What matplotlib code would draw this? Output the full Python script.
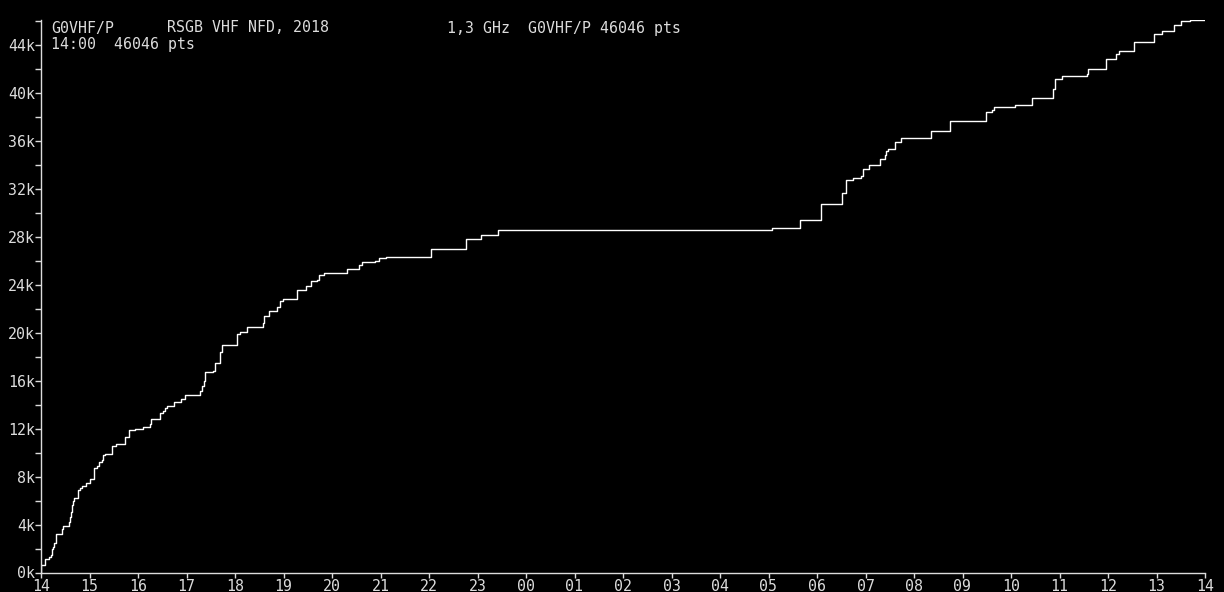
import numpy as np
import matplotlib
matplotlib.use("Agg")
import matplotlib.pyplot as plt

# minutes after 14:00 at which the score steps up, and the new running score
minutes = [0, 0, 5.4, 10.3, 12.4, 14.0, 15.3, 16.5, 18.6, 25.6, 26.8, 34.3, 35.5,
           36.7, 38.8, 40.0, 40.9, 46.2, 48.3, 50.4, 55.7, 61.1, 66.1, 68.9, 71.8,
           75.9, 77.2, 79.2, 88.3, 93.3, 103.5, 108.5, 116.0, 125.9, 135.4, 136.6,
           147.7, 151.0, 153.9, 156.4, 165.1, 172.9, 178.7, 196.4, 199.7, 201.4,
           203.5, 213.4, 215.8, 222.0, 224.5, 242.3, 245.6, 254.6, 274.5, 275.7,
           282.0, 291.8, 295.1, 298.8, 316.1, 327.3, 333.5, 340.9, 343.4, 349.6,
           378.0, 392.9, 396.6, 412.7, 417.6, 426.3, 482.0, 525.4, 543.9, 565.0,
           904.0, 938.9, 964.9, 990.9, 995.8, 1004.5, 1014.4, 1016.9, 1024.3,
           1037.9, 1044.1, 1045.3, 1047.8, 1056.5, 1063.9, 1101.1, 1124.6, 1169.2,
           1176.6, 1179.1, 1205.1, 1226.2, 1252.2, 1254.6, 1263.3, 1294.3, 1295.5,
           1317.8, 1330.1, 1333.8, 1352.4, 1377.2, 1387.1, 1402.0, 1410.6, 1421.8,
           1440]
score = [0, 630, 1130, 1270, 1460, 1940, 2160, 2440, 3190, 3610, 3890, 4250, 4620,
         5010, 5650, 5930, 6210, 6850, 7040, 7210, 7460, 7800, 8720, 8860, 9250,
         9410, 9810, 9890, 10530, 10720, 11310, 11900, 11980, 12150, 12400, 12820,
         13320, 13430, 13740, 13910, 14240, 14490, 14830, 15160, 15580, 15970,
         16670, 16830, 17500, 18340, 18930, 19850, 20010, 20430, 20770, 21350,
         21770, 22110, 22610, 22800, 23560, 23860, 24310, 24390, 24780, 24950,
         25290, 25620, 25870, 25960, 26210, 26290, 26950, 27800, 28130, 28550,
         28720, 29390, 30730, 31650, 32680, 32900, 33070, 33600, 33990,
         34490, 34830, 35160, 35330, 35910, 36250, 36830, 37670, 38340,
         38510, 38760, 38930, 39510, 40270, 41100, 41350, 41520, 41940,
         42780, 43190, 43440, 44200, 44870, 45120, 45620, 45960, 46046,
         46046]

hour_labels = ["14", "15", "16", "17", "18", "19", "20", "21", "22", "23", "00",
               "01", "02", "03", "04", "05", "06", "07", "08", "09", "10", "11",
               "12", "13", "14"]
y_labels = ["0k", "4k", "8k", "12k", "16k", "20k", "24k", "28k", "32k", "36k",
            "40k", "44k"]

fg = "#dcdcdc"
mono = "DejaVu Sans Mono"
fs = 10.7

fig = plt.figure(figsize=(12.24, 5.92), dpi=100, facecolor="black")
ax = fig.add_axes([41 / 1224, 19.5 / 592, (1205 - 41) / 1224, (572.5 - 20) / 592])
ax.set_facecolor("black")

ax.plot(minutes, score, drawstyle="steps-post", color="white", lw=1.0)

ax.set_xlim(0, 1440)
ax.set_ylim(0, 46046)

ax.set_xticks(np.arange(0, 1441, 60))
ax.set_xticklabels(hour_labels)
ax.set_yticks(np.arange(0, 44001, 4000))
ax.set_yticklabels(y_labels)
ax.set_yticks(np.arange(2000, 46001, 4000), minor=True)

for s in ["top", "right"]:
    ax.spines[s].set_visible(False)
for s in ["left", "bottom"]:
    ax.spines[s].set_color(fg)
    ax.spines[s].set_linewidth(1.0)

ax.tick_params(axis="x", colors=fg, direction="out", length=3.6, width=1.0, pad=1)
ax.tick_params(axis="y", which="both", colors=fg, direction="out", length=4.3,
               width=1.0, pad=0)
for lab in ax.get_xticklabels() + ax.get_yticklabels():
    lab.set_family(mono)
    lab.set_fontsize(fs)
    lab.set_color(fg)

fig.text(51 / 1224, 1 - 28 / 592, "G0VHF/P", color=fg, family=mono, fontsize=fs, va="center")
fig.text(167 / 1224, 1 - 28 / 592, "RSGB VHF NFD, 2018", color=fg, family=mono, fontsize=fs, va="center")
fig.text(447 / 1224, 1 - 28 / 592, "1,3 GHz  G0VHF/P 46046 pts", color=fg, family=mono, fontsize=fs, va="center")
fig.text(51 / 1224, 1 - 44 / 592, "14:00  46046 pts", color=fg, family=mono, fontsize=fs, va="center")

fig.savefig("out.png", dpi=100, facecolor="black")
